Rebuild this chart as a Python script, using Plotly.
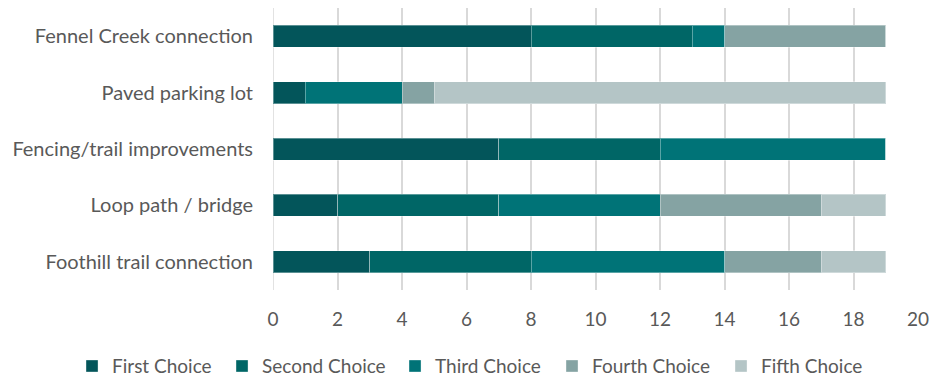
import plotly.graph_objects as go

categories = ["Fennel Creek connection", "Paved parking lot", "Fencing/trail improvements",
              "Loop path / bridge", "Foothill trail connection"]
series_names = ["First Choice", "Second Choice", "Third Choice", "Fourth Choice", "Fifth Choice"]
first = [8, 1, 7, 2, 3]
second = [5, 0, 5, 5, 5]
third = [1, 3, 7, 5, 6]
fourth = [5, 1, 0, 5, 3]
fifth = [0, 14, 0, 2, 2]
x_ticks = [0, 2, 4, 6, 8, 10, 12, 14, 16, 18, 20]

colors = ["#03555A", "#006666", "#007377", "#85A3A3", "#B4C5C6"]
legend_widths = [105, 128, 112, 124, 110]

values = [first, second, third, fourth, fifth]
font_family = "Lato, 'Open Sans', sans-serif"
txt = "#595959"

fig = go.Figure()
for name, vals, col, lw in zip(series_names, values, colors, legend_widths):
    fig.add_trace(go.Bar(
        y=categories, x=vals, name=name, orientation="h", legendwidth=lw,
        marker=dict(color=col, line=dict(color="rgba(255,255,255,0.35)", width=1)),
    ))

fig.update_layout(
    barmode="stack",
    bargap=0.61,
    width=932, height=380,
    margin=dict(l=273, r=14, t=8, b=90, autoexpand=False),
    plot_bgcolor="white", paper_bgcolor="white",
    font=dict(family=font_family, size=19, color=txt),
    xaxis=dict(range=[0, 20], tickvals=x_ticks, showgrid=True, gridcolor="#D9D9D9", gridwidth=1.5,
               zeroline=False, showline=False, ticks="", ticklabelstandoff=16,
               tickfont=dict(size=19, color=txt)),
    yaxis=dict(autorange="reversed", showgrid=False, zeroline=False, showline=False, ticks="",
               ticklabelstandoff=19, tickfont=dict(size=20, color=txt)),
    legend=dict(orientation="h", x=-0.3116, xanchor="left",
                y=-0.27, yanchor="middle",
                font=dict(size=19, color=txt), itemwidth=30, traceorder="normal"),
)
fig.add_shape(type="line", xref="x", yref="paper", x0=0, x1=0, y0=0, y1=1,
              line=dict(color="#D9D9D9", width=1.5), layer="below")

fig.write_html("out.html", config={"displayModeBar": False},
               post_script="document.body.style.margin='0';document.body.style.overflow='hidden';")
